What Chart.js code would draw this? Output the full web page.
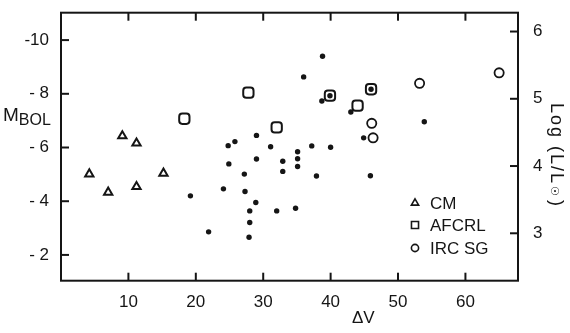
<!DOCTYPE html>
<html><head><meta charset="utf-8">
<script src="https://cdn.jsdelivr.net/npm/chart.js@4/dist/chart.umd.min.js"></script>
<style>html,body{margin:0;padding:0;background:#fff}canvas{display:block}</style>
</head><body>
<canvas id="c" width="570" height="333"></canvas>
<script>
// ---- data (ΔV in km/s, M_bol) ----
const dotsV = [19.2, 21.9, 24.1, 24.8, 25.8, 24.9, 27.2, 27.3, 28.0, 28.0, 27.9, 28.9, 29.0, 29.0, 31.1, 32.0, 32.9, 32.9, 34.8, 35.1, 35.1, 35.1, 36.0, 37.2, 37.9, 38.8, 38.7, 40.0, 39.9, 43.0, 44.9, 46.0, 45.9, 53.9];
const dotsM = [-4.20, -2.86, -4.46, -6.07, -6.22, -5.39, -5.01, -4.36, -3.64, -3.21, -2.66, -3.95, -6.45, -5.57, -6.03, -3.64, -5.49, -5.11, -3.74, -5.84, -5.58, -5.29, -8.63, -6.06, -4.94, -9.40, -7.73, -6.01, -7.93, -7.32, -6.36, -8.17, -4.95, -6.96];
const cmV = [4.2, 7.0, 9.1, 11.2, 11.2, 15.2];
const cmM = [-5.01, -4.33, -6.43, -6.16, -4.54, -5.04];
const afcrlV = [18.3, 27.8, 32.0, 39.9, 44.0, 46.0];
const afcrlM = [-7.07, -8.04, -6.75, -7.93, -7.56, -8.17];
const ircV = [46.1, 46.3, 53.2, 65.0];
const ircM = [-6.90, -6.36, -8.39, -8.78];
const xTicks = [10, 20, 30, 40, 50, 60];
const mTicks = [-10, -8, -6, -4, -2];
const logTicks = [3, 4, 5, 6];
const legendLabels = ['CM', 'AFCRL', 'IRC SG'];

const FONT = '"Liberation Sans", Arial, sans-serif';
const INK = '#151515';
const pts = (xs, ys) => xs.map((v, i) => ({x: v, y: ys[i]}));
const noPad = s => { s.paddingTop = 0; s.paddingBottom = 0; s.paddingLeft = 0; s.paddingRight = 0; };

const frame = {
  id: 'frame',
  beforeDraw(chart) {
    const ctx = chart.ctx;
    ctx.save(); ctx.fillStyle = '#fff'; ctx.fillRect(0, 0, chart.width, chart.height); ctx.restore();
  },
  afterDraw(chart) {
    const {ctx, chartArea: a, scales} = chart;
    ctx.save();
    ctx.strokeStyle = INK; ctx.fillStyle = INK; ctx.lineWidth = 2;
    ctx.strokeRect(a.left, a.top, a.right - a.left, a.bottom - a.top);
    const L = 8;
    const seg = (x1, y1, x2, y2) => { ctx.beginPath(); ctx.moveTo(x1, y1); ctx.lineTo(x2, y2); ctx.stroke(); };
    xTicks.forEach(v => { const p = scales.x.getPixelForValue(v); seg(p, a.bottom, p, a.bottom - L); seg(p, a.top, p, a.top + L); });
    mTicks.forEach(v => { const p = scales.y.getPixelForValue(v); seg(a.left, p, a.left + L, p); });
    logTicks.forEach(v => { const p = scales.y2.getPixelForValue(v); seg(a.right, p, a.right - L, p); });

    // left title M_BOL
    ctx.textBaseline = 'alphabetic'; ctx.textAlign = 'left';
    ctx.font = '19px ' + FONT; ctx.fillText('M', 3, 121);
    const mw = ctx.measureText('M').width;
    ctx.font = '16px ' + FONT; ctx.fillText('BOL', 3 + mw, 125);
    // bottom title
    ctx.font = '17px ' + FONT; ctx.fillText('ΔV', 352, 323);
    // right title, rotated
    ctx.save();
    ctx.translate(556, 103); ctx.rotate(Math.PI / 2);
    ctx.textBaseline = 'middle';
    if ('letterSpacing' in ctx) ctx.letterSpacing = '2px';
    ctx.font = '18px ' + FONT; ctx.fillText('Log (L/L', 0, 0);
    let w = ctx.measureText('Log (L/L').width;
    ctx.font = '11px DejaVu Sans'; ctx.fillText('☉', w + 1, 2);
    w += ctx.measureText('☉').width + 1;
    ctx.font = '18px ' + FONT; ctx.fillText(')', w + 2, 0);
    if ('letterSpacing' in ctx) ctx.letterSpacing = '0px';
    ctx.restore();

    // legend
    const styles = ['triangle', 'rect', 'circle'];
    const radii = [4.2, 5, 3.6];
    const ys = [203, 225, 248];
    ctx.lineWidth = 1.6;
    styles.forEach((s, i) => {
      ctx.fillStyle = 'rgba(0,0,0,0)';
      Chart.helpers.drawPoint(ctx, {pointStyle: s, radius: radii[i], rotation: 0, borderWidth: 1.6}, 415, ys[i]);
      ctx.fillStyle = INK;
      ctx.font = '17px ' + FONT; ctx.textBaseline = 'middle'; ctx.textAlign = 'left';
      ctx.fillText(legendLabels[i], 430, ys[i] + 1);
    });
    ctx.restore();
  }
};

const hollow = 'rgba(0,0,0,0)';
new Chart(document.getElementById('c'), {
  type: 'scatter',
  data: {
    datasets: [
      {label: 'CM', data: pts(cmV, cmM), pointStyle: 'triangle', pointRadius: 4.8, borderColor: INK, backgroundColor: hollow, borderWidth: 2},
      {label: 'AFCRL', data: pts(afcrlV, afcrlM), pointStyle: 'rectRounded', pointRadius: 6, borderColor: INK, backgroundColor: hollow, borderWidth: 2},
      {label: 'IRC SG', data: pts(ircV, ircM), pointStyle: 'circle', pointRadius: 4.6, borderColor: INK, backgroundColor: hollow, borderWidth: 1.8},
      {label: 'other', data: pts(dotsV, dotsM), pointStyle: 'circle', pointRadius: 2.7, borderWidth: 0, backgroundColor: INK, borderColor: INK}
    ]
  },
  options: {
    responsive: false, animation: false,
    layout: {padding: 0},
    plugins: {legend: {display: false}, tooltip: {enabled: false}},
    scales: {
      x: {type: 'linear', position: 'bottom', min: 0, max: 67.8,
          grid: {display: false}, border: {display: false},
          afterBuildTicks: s => { s.ticks = xTicks.map(v => ({value: v})); },
          ticks: {font: {family: FONT, size: 17}, color: INK, padding: 3},
          afterFit: s => { s.height = 52.3; noPad(s); }},
      xTop: {type: 'linear', position: 'top', min: 0, max: 67.8,
          grid: {display: false}, border: {display: false}, ticks: {display: false},
          afterFit: s => { s.height = 12.7; noPad(s); }},
      y: {type: 'linear', position: 'left', reverse: true, min: -11.02, max: -1.04,
          grid: {display: false}, border: {display: false},
          afterBuildTicks: s => { s.ticks = mTicks.map(v => ({value: v})); },
          ticks: {font: {family: FONT, size: 17}, color: INK, padding: 4,
                  callback: v => (v <= -10 ? '-' : '- ') + Math.abs(v)},
          afterFit: s => { s.width = 61; noPad(s); }},
      y2: {type: 'linear', position: 'right', min: 2.295, max: 6.28,
          grid: {display: false}, border: {display: false},
          afterBuildTicks: s => { s.ticks = logTicks.map(v => ({value: v})); },
          ticks: {font: {family: FONT, size: 17}, color: INK, padding: 7},
          afterFit: s => { s.width = 52; noPad(s); }}
    }
  },
  plugins: [frame]
});
</script>
</body></html>
